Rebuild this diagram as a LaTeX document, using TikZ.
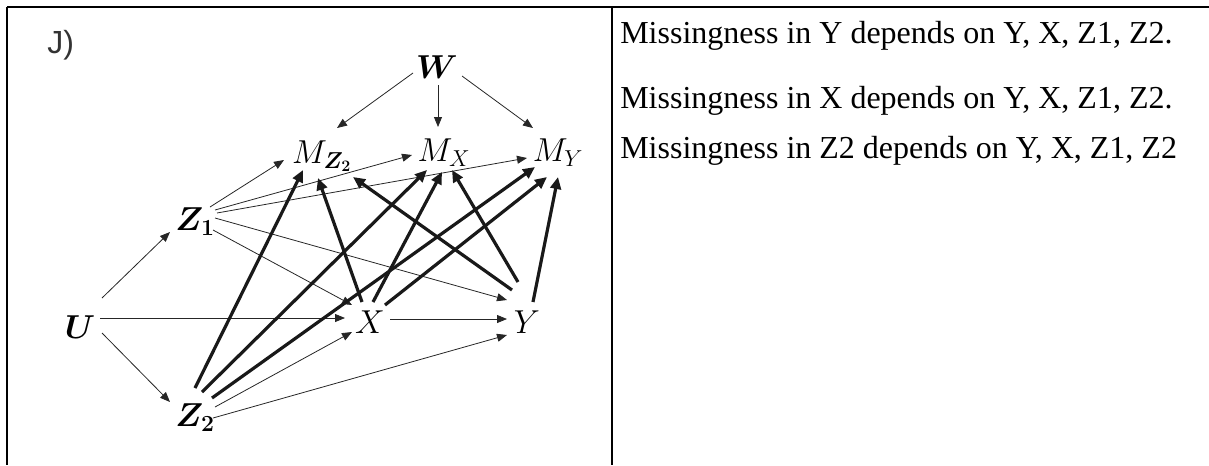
\documentclass[tikz,border=0pt]{standalone}
\usepackage{amsmath}
\usepackage{bm}
\usepackage{fontspec}
\setmainfont{Liberation Serif}
\newfontfamily\panelfont{Liberation Sans}
\usetikzlibrary{arrows.meta,calc}

\begin{document}
\begin{tikzpicture}[
    x=0.75pt, y=-0.75pt,
    var/.style={inner sep=2pt, font=\fontsize{25}{30}\selectfont},
    lnk/.style={-{Triangle[length=7.5pt, width=6pt]}, line width=0.6pt, draw=black!85},
    mlnk/.style={-{Triangle[length=9pt, width=8pt]}, line width=2.4pt, draw=black!90},
    txt/.style={anchor=base west, inner sep=0pt, font=\fontsize{24}{28}\selectfont},
    rule/.style={line width=1.5pt},
]
    \useasboundingbox (0,0) rectangle (1209,465);
    \draw[rule] (7,7) -- (1209,7);
    \draw[rule] (7,7) -- (7,465);
    \draw[rule] (612,7) -- (612,465);

    \node[anchor=base west, inner sep=0pt, font=\panelfont\fontsize{24}{28}\selectfont, text=black!80] (panel) at (47,53) {J)};

    \node[var] (W) at (437,67) {$\bm{W}$};
    \node[var] (MZ) at (322,156) {$M_{\bm{Z}_{\bm{2}}}$};
    \node[var] (MX) at (444,153) {$M_{X}$};
    \node[var] (MY) at (558,153) {$M_{Y}$};
    \node[var] (Z1) at (195,222) {$\bm{Z}_{\bm{1}}$};
    \node[var] (U) at (80,327) {$\bm{U}$};
    \node[var] (X) at (370,322) {$X$};
    \node[var] (Y) at (527,322) {$Y$};
    \node[var] (Z2) at (195,418) {$\bm{Z}_{\bm{2}}$};

    \draw[lnk] ($(W)+(-24,6)$) -- ($(MZ)+(15,-28)$);
    \draw[lnk] ($(W)+(1,18)$) -- ($(MX)+(-6,-26)$);
    \draw[lnk] ($(W)+(25,9)$) -- ($(MY)+(-25,-25)$);
    \draw[lnk] ($(U)+(22,-29)$) -- ($(Z1)+(-25,10)$);
    \draw[lnk] ($(U)+(22,6)$) -- ($(Z2)+(-25,-16)$);
    \draw[lnk] ($(U)+(20,-9)$) -- ($(X)+(-25,-4)$);
    \draw[lnk] ($(X)+(20,-3)$) -- ($(Y)+(-20,-3)$);
    \draw[lnk] ($(Z1)+(15,-15)$) -- ($(MZ)+(-38,4)$);
    \draw[lnk] ($(Z1)+(20,-12)$) -- ($(MX)+(-32,2)$);
    \draw[lnk] ($(Z1)+(22,-9)$) -- ($(MY)+(-31,5)$);
    \draw[lnk] ($(Z1)+(18,8)$) -- ($(X)+(-18,-17)$);
    \draw[lnk] ($(Z1)+(20,-4)$) -- ($(Y)+(-20,-22)$);
    \draw[lnk] ($(Z2)+(20,-11)$) -- ($(X)+(-18,10)$);
    \draw[lnk] ($(Z2)+(18,0)$) -- ($(Y)+(-20,13)$);

    \draw[mlnk] ($(Z2)+(0,-30)$) -- ($(MZ)+(-19,14)$);
    \draw[mlnk] ($(Z2)+(7,-26)$) -- ($(MX)+(-17,17)$);
    \draw[mlnk] ($(Z2)+(17,-20)$) -- ($(MY)+(-23,14)$);
    \draw[mlnk] ($(X)+(-8,-20)$) -- ($(MZ)+(-4,22)$);
    \draw[mlnk] ($(X)+(3,-20)$) -- ($(MX)+(-2,19)$);
    \draw[mlnk] ($(X)+(15,-17)$) -- ($(MY)+(-11,24)$);
    \draw[mlnk] ($(Y)+(-15,-32)$) -- ($(MZ)+(31,21)$);
    \draw[mlnk] ($(Y)+(-9,-40)$) -- ($(MX)+(8,17)$);
    \draw[mlnk] ($(Y)+(6,-20)$) -- ($(MY)+(0,24)$);

    \node[txt] (ty) at (620,43) {Missingness in Y depends on Y, X, Z1, Z2.};
    \node[txt] (tx) at (620,108) {Missingness in X depends on Y, X, Z1, Z2.};
    \node[txt] (tz) at (620,158) {Missingness in Z2 depends on Y, X, Z1, Z2};
\end{tikzpicture}
\end{document}
